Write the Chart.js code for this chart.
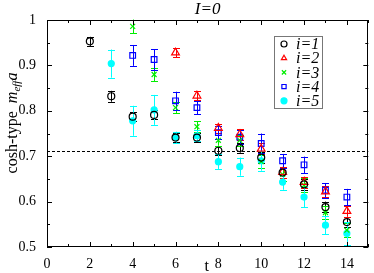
<!DOCTYPE html>
<html>
<head>
<meta charset="utf-8">
<script src="https://cdn.jsdelivr.net/npm/chart.js@4"></script>
<style>
  html, body { margin: 0; padding: 0; background: #fff; }
  #wrap { width: 374px; height: 273px; }
</style>
</head>
<body>
<div id="wrap"><canvas id="chart" width="374" height="273"></canvas></div>
<script>
// Werte
const t1 = [2, 3, 4, 5, 6, 7, 8, 9, 10, 11, 12, 13, 14];
const m1 = [0.953, 0.832, 0.787, 0.791, 0.741, 0.741, 0.712, 0.718, 0.697, 0.664, 0.638, 0.588, 0.555];
const e1 = [0.010, 0.012, 0.010, 0.010, 0.010, 0.010, 0.010, 0.010, 0.012, 0.012, 0.012, 0.012, 0.012];

const t2 = [6, 7, 8, 9, 10, 11, 12, 13, 14];
const m2 = [0.928, 0.833, 0.762, 0.748, 0.716, 0.665, 0.643, 0.622, 0.579];
const e2 = [0.010, 0.010, 0.010, 0.012, 0.012, 0.012, 0.012, 0.012, 0.012];

const t3 = [4, 5, 6, 7, 8, 9, 10, 11, 12, 13, 14];
const m3 = [0.986, 0.880, 0.807, 0.765, 0.735, 0.735, 0.688, 0.660, 0.636, 0.576, 0.537];
const e3 = [0.015, 0.015, 0.012, 0.012, 0.012, 0.012, 0.015, 0.015, 0.015, 0.015, 0.015];

const t4 = [4, 5, 6, 7, 8, 9, 10, 11, 12, 13, 14];
const m4 = [0.922, 0.913, 0.822, 0.807, 0.752, 0.742, 0.728, 0.690, 0.681, 0.625, 0.610];
const e4 = [0.023, 0.023, 0.020, 0.015, 0.015, 0.015, 0.022, 0.015, 0.018, 0.016, 0.018];

const t5 = [3, 4, 5, 6, 7, 8, 9, 10, 11, 12, 13, 14];
const m5 = [0.904, 0.778, 0.802, 0.742, 0.745, 0.688, 0.677, 0.690, 0.643, 0.610, 0.548, 0.530];
const e5 = [0.031, 0.033, 0.033, 0.012, 0.012, 0.017, 0.020, 0.022, 0.017, 0.022, 0.020, 0.025];

const seriesLabels = ["i=1", "i=2", "i=3", "i=4", "i=5"];
const xTicks = [0, 2, 4, 6, 8, 10, 12, 14];
const yTicks = [0.5, 0.6, 0.7, 0.8, 0.9, 1.0];
const plateau = 0.712;

const serif = "'Liberation Serif', 'DejaVu Serif', serif";

function punkte(t, m, e) {
  let arr = [];
  for (let i = 0; i < t.length; i++) {
    arr.push({ x: t[i], y: m[i], err: e[i] });
  }
  return arr;
}

const datasets = [
  { label: seriesLabels[0], data: punkte(t1, m1, e1), pointStyle: "circle", radius: 3.5,
    borderColor: "#000000", backgroundColor: "rgba(0,0,0,0)" },
  { label: seriesLabels[1], data: punkte(t2, m2, e2), pointStyle: "triangle", radius: 4.5,
    borderColor: "#ff0000", backgroundColor: "rgba(0,0,0,0)" },
  { label: seriesLabels[2], data: punkte(t3, m3, e3), pointStyle: "crossRot", radius: 3.5,
    borderColor: "#00ee00", backgroundColor: "#00ee00" },
  { label: seriesLabels[3], data: punkte(t4, m4, e4), pointStyle: "rect", radius: 4,
    borderColor: "#0000ff", backgroundColor: "rgba(0,0,0,0)" },
  { label: seriesLabels[4], data: punkte(t5, m5, e5), pointStyle: "circle", radius: 3,
    borderColor: "#00ffff", backgroundColor: "#00ffff" },
];
datasets.forEach(function (d) {
  d.borderWidth = 1.2;
  d.pointRadius = d.radius;
  d.pointHoverRadius = d.radius;
  d.showLine = false;
});

// Fehlerbalken, Rahmen, Ticks, Legende, Titel
const deko = {
  id: "deko",
  beforeDatasetsDraw(chart) {
    const ctx = chart.ctx;
    const xs = chart.scales.x, ys = chart.scales.y;
    const a = chart.chartArea;
    ctx.save();
    // gestrichelte Linie
    ctx.strokeStyle = "#000";
    ctx.lineWidth = 1;
    ctx.setLineDash([3, 2]);
    const py = Math.round(ys.getPixelForValue(plateau)) + 0.5;
    ctx.beginPath();
    ctx.moveTo(a.left, py);
    ctx.lineTo(a.right, py);
    ctx.stroke();
    ctx.setLineDash([]);
    // Fehlerbalken
    chart.data.datasets.forEach(function (d) {
      ctx.strokeStyle = d.borderColor;
      ctx.lineWidth = 1;
      d.data.forEach(function (p) {
        const x = Math.round(xs.getPixelForValue(p.x)) + 0.5;
        const yTop = ys.getPixelForValue(p.y + p.err);
        const yBot = ys.getPixelForValue(p.y - p.err);
        ctx.beginPath();
        ctx.moveTo(x, yTop);
        ctx.lineTo(x, yBot);
        ctx.moveTo(x - 3.5, Math.round(yTop) + 0.5);
        ctx.lineTo(x + 3.5, Math.round(yTop) + 0.5);
        ctx.moveTo(x - 3.5, Math.round(yBot) + 0.5);
        ctx.lineTo(x + 3.5, Math.round(yBot) + 0.5);
        ctx.stroke();
      });
    });
    ctx.restore();
  },
  afterDraw(chart) {
    const ctx = chart.ctx;
    const xs = chart.scales.x, ys = chart.scales.y;
    const a = chart.chartArea;
    ctx.save();
    ctx.strokeStyle = "#000";
    ctx.lineWidth = 1;
    ctx.strokeRect(Math.round(a.left) + 0.5, Math.round(a.top) + 0.5,
      Math.round(a.right - a.left) - 1, Math.round(a.bottom - a.top) - 1);
    // Ticks nach innen
    ctx.beginPath();
    for (let v = 0; v <= 15; v++) {
      const len = v % 2 === 0 ? 5 : 3;
      const x = Math.round(xs.getPixelForValue(v)) + 0.5;
      ctx.moveTo(x, a.bottom);
      ctx.lineTo(x, a.bottom - len);
      ctx.moveTo(x, a.top);
      ctx.lineTo(x, a.top + len);
    }
    for (let k = 0; k <= 10; k++) {
      const v = 0.5 + k * 0.05;
      const len = k % 2 === 0 ? 5 : 3;
      const y = Math.round(ys.getPixelForValue(v)) + 0.5;
      ctx.moveTo(a.left, y);
      ctx.lineTo(a.left + len, y);
      ctx.moveTo(a.right, y);
      ctx.lineTo(a.right - len, y);
    }
    ctx.stroke();

    // Titel
    ctx.fillStyle = "#000";
    ctx.font = "italic 17px " + serif;
    ctx.textAlign = "center";
    ctx.textBaseline = "middle";
    ctx.fillText("I=0", (a.left + a.right) / 2, 10);

    // x-Achsentitel
    ctx.font = "16px " + serif;
    ctx.fillText("t", (a.left + a.right) / 2 - 1, 267);

    // y-Achsentitel mit Index
    ctx.save();
    ctx.translate(13, 123);
    ctx.rotate(-Math.PI / 2);
    ctx.textAlign = "left";
    ctx.textBaseline = "middle";
    const teile = [
      { s: "cosh-type  ", f: "16px " + serif, dy: 0 },
      { s: "m", f: "italic 16px " + serif, dy: 0 },
      { s: "eff", f: "italic 11px " + serif, dy: 4 },
      { s: "a", f: "italic 16px " + serif, dy: 0 },
    ];
    let gesamt = 0;
    teile.forEach(function (p) { ctx.font = p.f; gesamt += ctx.measureText(p.s).width; });
    let xpos = -gesamt / 2;
    teile.forEach(function (p) {
      ctx.font = p.f;
      ctx.fillText(p.s, xpos, p.dy);
      xpos += ctx.measureText(p.s).width;
    });
    ctx.restore();

    // Legende
    ctx.fillStyle = "#fff";
    ctx.fillRect(274, 36, 49, 73);
    ctx.strokeStyle = "#777";
    ctx.lineWidth = 1;
    ctx.strokeRect(274.5, 36.5, 48, 72);
    ctx.font = "italic 16px " + serif;
    ctx.textAlign = "left";
    ctx.textBaseline = "middle";
    chart.data.datasets.forEach(function (d, i) {
      const y = 44 + i * 14.2;
      ctx.strokeStyle = d.borderColor;
      ctx.fillStyle = d.backgroundColor;
      ctx.lineWidth = 1.2;
      Chart.helpers.drawPoint(ctx, { pointStyle: d.pointStyle, radius: 3, rotation: 0, borderWidth: 1.2 }, 284, y);
      ctx.fillStyle = "#000";
      ctx.fillText(d.label, 296, y + 1);
    });
    ctx.restore();
  },
};

const config = {
  type: "scatter",
  data: { datasets: datasets },
  options: {
    responsive: false,
    animation: false,
    events: [],
    layout: { padding: { top: 20, right: 3, left: 0, bottom: 0 } },
    plugins: { legend: { display: false }, tooltip: { enabled: false }, title: { display: false } },
    scales: {
      x: {
        type: "linear",
        min: 0,
        max: 15,
        grid: { display: false },
        border: { display: false },
        afterBuildTicks: function (s) { s.ticks = xTicks.map(function (v) { return { value: v }; }); },
        afterFit: function (s) { s.height = 26; },
        ticks: { font: { family: serif, size: 14 }, color: "#000", padding: 1, maxRotation: 0,
          callback: function (v) { return String(v); } },
      },
      y: {
        type: "linear",
        min: 0.5,
        max: 1.0,
        grid: { display: false },
        border: { display: false },
        afterBuildTicks: function (s) { s.ticks = yTicks.map(function (v) { return { value: v }; }); },
        afterFit: function (s) { s.width = 47; },
        ticks: { font: { family: serif, size: 14 }, color: "#000", padding: 3,
          callback: function (v) { return String(Number(v.toFixed(2))); } },
      },
    },
  },
  plugins: [deko],
};

const chart = new Chart(document.querySelector("#chart"), config);
</script>
</body>
</html>
